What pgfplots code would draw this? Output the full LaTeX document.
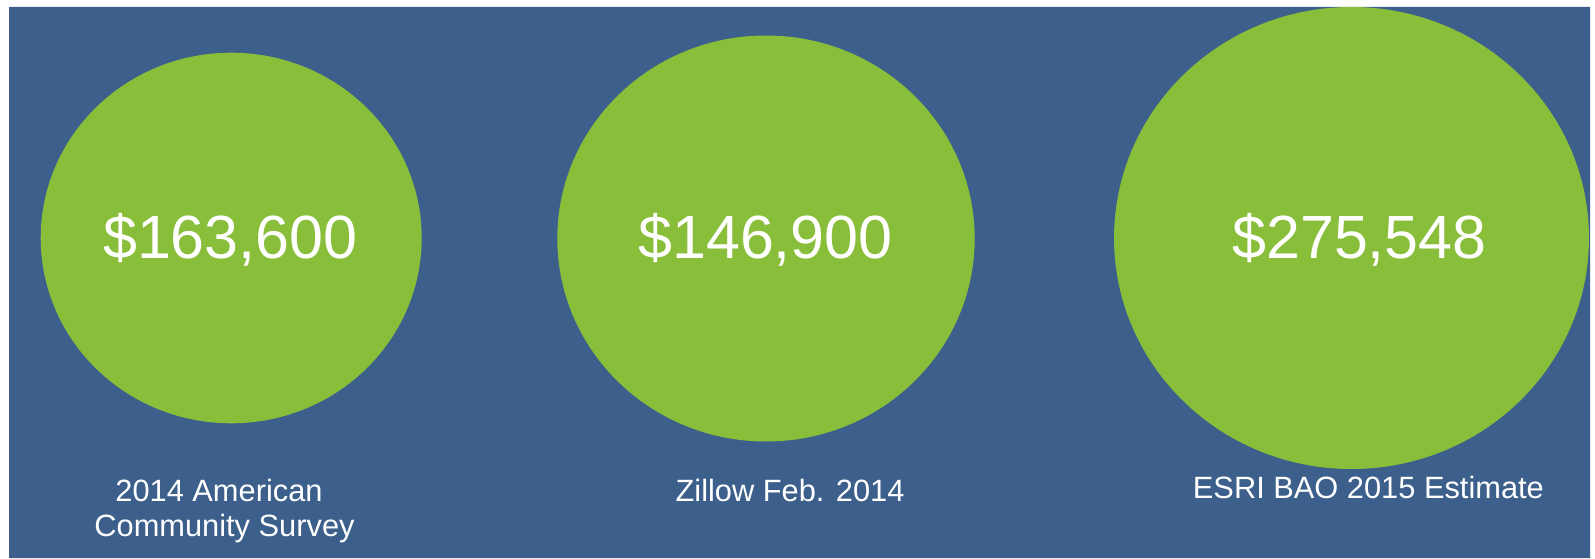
\documentclass[border=0pt]{standalone}
\usepackage{pgfplots}
\pgfplotsset{compat=1.18}
\usepackage{fontspec}
\setmainfont{Liberation Sans}
\definecolor{bgblue}{RGB}{60,96,139}
\definecolor{bubgreen}{RGB}{137,190,58}
\pgfdeclareplotmark{ell}{%
  \pgfpathellipse{\pgfpointorigin}{\pgfqpoint{1.028\pgfplotmarksize}{0pt}}{\pgfqpoint{0pt}{\pgfplotmarksize}}%
  \pgfusepathqfill}
\begin{document}
\begin{tikzpicture}
\begin{axis}[
  set layers,
  width=797.5pt, height=279pt, scale only axis,
  xmin=0, xmax=1595, ymin=0, ymax=558, y dir=reverse,
  axis line style={draw=none}, ticks=none, clip=false,
]
\addplot[fill=bgblue, draw=none] coordinates {(9,7) (1590,7) (1590,558) (9,558) (9,7)};
\addplot[scatter, only marks, mark=ell,
  scatter/use mapped color={draw=none, fill=bubgreen},
  visualization depends on={\thisrow{r} \as \rad},
  scatter/@pre marker code/.append style={/tikz/mark size={0.5*\rad}},
] table {
x y r
231.2 238 185.3
766 238.5 203
1351.5 238 231
};
\begin{pgfonlayer}{axis foreground}
\node[anchor=base, text=white, font=\fontsize{30.5}{36}\selectfont] at (axis cs:230.3,258.3) {\$163,600};
\node[anchor=base, text=white, font=\fontsize{30.5}{36}\selectfont] at (axis cs:765.5,258.3) {\$146,900};
\node[anchor=base, text=white, font=\fontsize{30.5}{36}\selectfont] at (axis cs:1359.5,258.3) {\$275,548};
\node[anchor=base, text=white, font=\fontsize{15.4}{18}\selectfont] at (axis cs:219,501.7) {2014 American};
\node[anchor=base, text=white, font=\fontsize{15.4}{18}\selectfont] at (axis cs:224.5,536.7) {Community Survey};
\node[anchor=base, text=white, font=\fontsize{15.4}{18}\selectfont] at (axis cs:790,501.7) {Zillow Feb. 2014};
\node[anchor=base, text=white, font=\fontsize{15.4}{18}\selectfont] at (axis cs:1368.4,498.3) {ESRI BAO 2015 Estimate};
\end{pgfonlayer}
\end{axis}
\end{tikzpicture}
\end{document}
